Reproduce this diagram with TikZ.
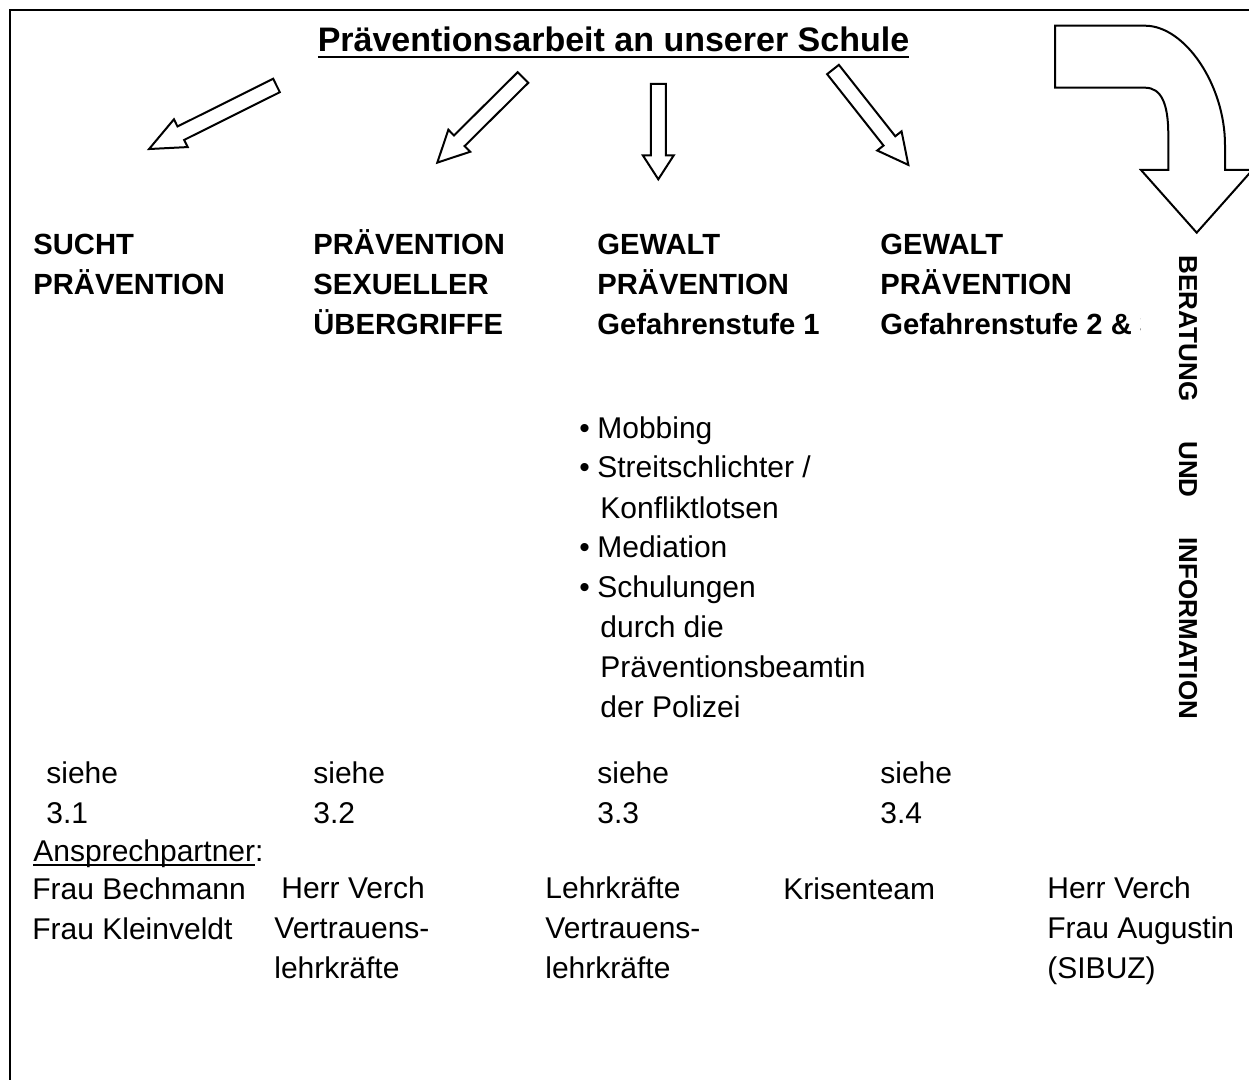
\documentclass[tikz,border=0pt]{standalone}
\usepackage{fontspec}
\setmainfont{Liberation Sans}

\newlength{\ulbreite}
\newcommand{\ulined}[2][-2.5pt]{\settowidth{\ulbreite}{#2}\rlap{\rule[#1]{\ulbreite}{1.2pt}}#2}
\newcommand{\punkt}{\makebox[9pt][l]{\textbullet}}
\newcommand{\einzug}{\hspace*{10.5pt}}

% Blockpfeil: Anfang, Winkel, Laenge, Spitzenlaenge
\newcommand{\blockpfeil}[4]{%
  \begin{scope}[shift={(#1)}, rotate=#2]
    \draw[pfeil] (0,7.5) -- ({#3-#4},7.5) -- ({#3-#4},15.5) -- (#3,0)
      -- ({#3-#4},-15.5) -- ({#3-#4},-7.5) -- (0,-7.5) -- cycle;
  \end{scope}}

\tikzset{
  pfeil/.style={draw=black, line width=1pt, fill=white},
  titel/.style={anchor=base, inner sep=0pt, font=\bfseries\fontsize{17}{20}\selectfont},
  kopf/.style={anchor=base west, inner sep=0pt, align=left, font=\bfseries\fontsize{14.6}{20}\selectfont},
  eintrag/.style={anchor=base west, inner sep=0pt, align=left, font=\fontsize{15}{20}\selectfont},
  seite/.style={inner sep=0pt, font=\bfseries\fontsize{13}{16}\selectfont}
}

\begin{document}
\begin{tikzpicture}[line join=miter, x=0.5pt, y=-0.5pt]

		\useasboundingbox (0,0) rectangle (1249,1080);
		\clip (0,0) rectangle (1249,1080);

		% Rahmen
		\draw[line width=1pt] (1260,10) -- (10,10) -- (10,1090);

		% Titel
		\node[titel] (titel) at (613.5,52) {\ulined[-3pt]{Präventionsarbeit an unserer Schule}};

		% Pfeile zu den Bereichen
		\blockpfeil{276.5,85.5}{206.5}{142.4}{35.5}
		\blockpfeil{523,77.5}{224.8}{120.8}{31}
		\blockpfeil{658.3,84}{-90}{95.3}{24}
		\blockpfeil{833,69.5}{-51.7}{121.6}{30.6}

		% Gebogener Pfeil (Beratung)
		\draw[pfeil] (1055,25.7) -- (1145,25.7) .. controls (1185,25.7) and (1225,85) .. (1225,145)
			-- (1225,170) -- (1252.4,170) -- (1196.7,232.7) -- (1141,170) -- (1168.3,170)
			-- (1168.3,135) .. controls (1168.3,105) and (1162,87.7) .. (1145,87.7) -- (1055,87.7) -- cycle;

		% Bereiche (Anker: Grundlinie der letzten Zeile)
		\node[kopf] (sucht) at (33,295) {SUCHT\\PRÄVENTION};
		\node[kopf] (sexuell) at (313,335) {PRÄVENTION\\SEXUELLER\\ÜBERGRIFFE};
		\node[kopf] (gewalt1) at (597,335) {GEWALT\\PRÄVENTION\\Gefahrenstufe 1};
		\begin{scope}
			\clip (870,200) rectangle (1140,350);
			\node[kopf] (gewalt2) at (880,335) {GEWALT\\PRÄVENTION\\Gefahrenstufe 2 \& 3};
		\end{scope}
		\node[seite, rotate=-90] (beratung) at (1188,487.5) {BERATUNG\hspace{20pt}UND\hspace{20pt}INFORMATION};

		% Massnahmen
		\node[eintrag] (massnahmen) at (579,718) {\punkt Mobbing\\\punkt Streitschlichter /\\\einzug Konfliktlotsen\\\punkt Mediation\\\punkt Schulungen\\\einzug durch die\\\einzug Präventionsbeamtin\\\einzug der Polizei};

		% Verweise
		\node[eintrag] (siehe1) at (46,823) {siehe\\3.1};
		\node[eintrag] (siehe2) at (313,823) {siehe\\3.2};
		\node[eintrag] (siehe3) at (597,823) {siehe\\3.3};
		\node[eintrag] (siehe4) at (880,823) {siehe\\3.4};

		% Ansprechpartner
		\node[eintrag] (ansprech) at (33,861) {\ulined{Ansprechpartner}:};
		\node[eintrag] (kontakt1) at (32,939) {Frau Bechmann\\Frau Kleinveldt};
		\node[eintrag] (kontakt2) at (274,978) {\hspace*{3.5pt}Herr Verch\\Vertrauens-\\lehrkräfte};
		\node[eintrag] (kontakt3) at (545,978) {Lehrkräfte\\Vertrauens-\\lehrkräfte};
		\node[eintrag] (kontakt4) at (783,899) {Krisenteam};
		\node[eintrag] (kontakt5) at (1047,978) {Herr Verch\\Frau Augustin\\(SIBUZ)};

	\end{tikzpicture}
\end{document}
